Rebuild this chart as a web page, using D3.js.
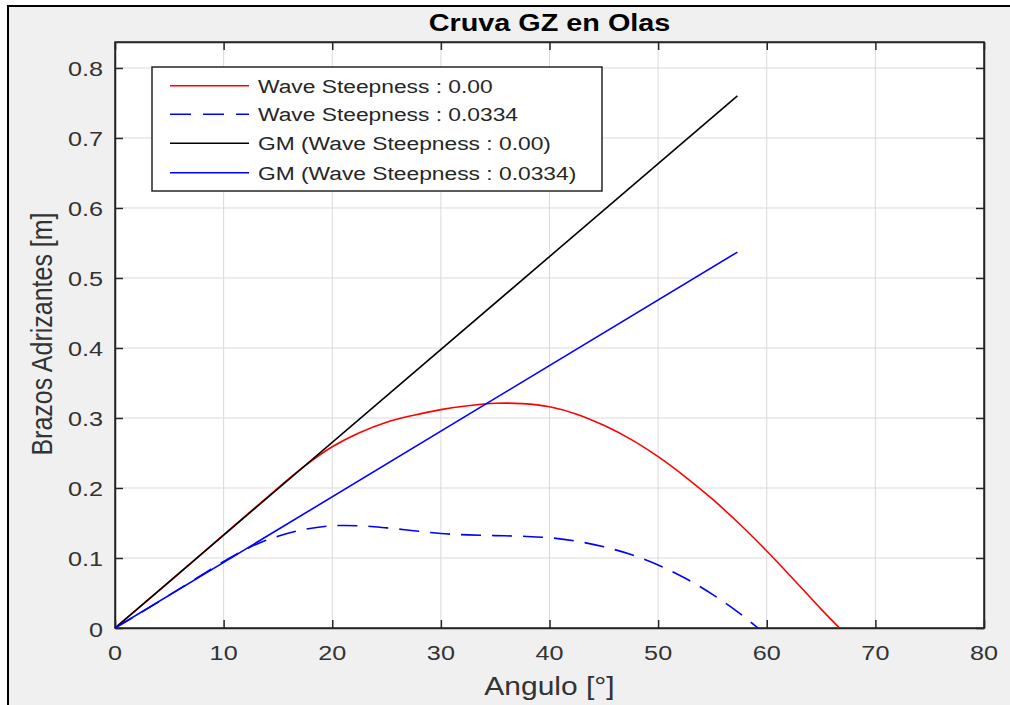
<!DOCTYPE html>
<html><head><meta charset="utf-8">
<script src="https://cdn.jsdelivr.net/npm/d3@7"></script>
<style>html,body{margin:0;padding:0;background:#fff;}svg{display:block;}</style>
</head><body>
<svg id="c" width="1010" height="705"></svg>
<script>
// ---- data ----
const xTicks = [0, 10, 20, 30, 40, 50, 60, 70, 80];
const yTicks = [0, 0.1, 0.2, 0.3, 0.4, 0.5, 0.6, 0.7, 0.8];
const yTickLabels = ["0", "0.1", "0.2", "0.3", "0.4", "0.5", "0.6", "0.7", "0.8"];
const xTickLabels = ["0", "10", "20", "30", "40", "50", "60", "70", "80"];

const calmAngles = [0, 5, 10, 15, 17.5, 20, 22.5, 25, 27.5, 30, 32.5, 35, 37.5, 40, 42.5, 45, 47.5, 50, 52.5, 55, 57.5, 60, 62.5, 65, 66.7];
const calmGZ     = [0, 0.066, 0.133, 0.200, 0.232, 0.259, 0.279, 0.294, 0.304, 0.312, 0.3175, 0.321, 0.3205, 0.316, 0.3055, 0.2895, 0.2695, 0.2448, 0.216, 0.184, 0.1485, 0.110, 0.069, 0.027, 0];

const waveAngles = [0, 2.5, 5, 7.5, 10, 12.5, 15, 17.5, 20, 22.5, 25, 27.5, 30, 32.5, 35, 37.5, 40, 42.5, 45, 47.5, 50, 52.5, 55, 57.5, 59.2];
const waveGZ     = [0, 0.023, 0.047, 0.071, 0.095, 0.116, 0.131, 0.141, 0.146, 0.146, 0.143, 0.139, 0.135, 0.133, 0.132, 0.131, 0.129, 0.124, 0.116, 0.105, 0.090, 0.071, 0.048, 0.021, 0];

const gmAngles = [0, 57.3];
const gmCalm   = [0, 0.76];
const gmWave   = [0, 0.537];

const legendLabels = ["Wave Steepness : 0.00", "Wave Steepness : 0.0334", "GM (Wave Steepness : 0.00)", "GM (Wave Steepness : 0.0334)"];

// ---- layout ----
const svg = d3.select("#c");
const L = 115, R = 984, T = 42, B = 628;
const SX = 1.2; // horizontal stretch of text
const x = d3.scaleLinear().domain([0, 80]).range([L, R]);
const y = d3.scaleLinear().domain([0, 0.8371]).range([B, T]);
const axisColor = "#262626";
const font = "'Liberation Sans', Arial, Helvetica, sans-serif";

function txt(g, px, py, s, o = {}) {
  return g.append("text")
    .attr("transform", `translate(${px},${py}) scale(${SX},1)` + (o.rotate ? " rotate(-90)" : ""))
    .attr("text-anchor", o.anchor || "start")
    .attr("font-family", font)
    .attr("font-size", o.size || 20)
    .attr("font-weight", o.weight || "normal")
    .attr("fill", o.fill || "#262626")
    .text(s);
}

// figure background + frame
svg.append("rect").attr("x", 8).attr("y", 6).attr("width", 1010).attr("height", 710).attr("fill", "#f0f0f0");
svg.append("line").attr("x1", 8).attr("x2", 8).attr("y1", 5).attr("y2", 705).attr("stroke", "#000").attr("stroke-width", 2);
svg.append("line").attr("x1", 7).attr("x2", 1010).attr("y1", 6).attr("y2", 6).attr("stroke", "#000").attr("stroke-width", 2);

// plot area
svg.append("rect").attr("x", L).attr("y", T).attr("width", R - L).attr("height", B - T).attr("fill", "#fff");

// grid
const grid = svg.append("g").attr("stroke", "#dadada").attr("stroke-width", 1);
xTicks.forEach(t => grid.append("line").attr("x1", x(t)).attr("x2", x(t)).attr("y1", T).attr("y2", B));
yTicks.forEach(t => grid.append("line").attr("x1", L).attr("x2", R).attr("y1", y(t)).attr("y2", y(t)));

// axes (ticks inside, box)
function styleAxis(g) {
  g.selectAll("path").attr("stroke", axisColor).attr("stroke-width", 1.5);
  g.selectAll("line").attr("stroke", axisColor).attr("stroke-width", 1.5);
  g.selectAll("text").remove();
}
svg.append("g").attr("transform", `translate(0,${B})`).call(d3.axisBottom(x).tickValues(xTicks).tickSizeInner(-8).tickSizeOuter(0)).call(styleAxis);
svg.append("g").attr("transform", `translate(0,${T})`).call(d3.axisTop(x).tickValues(xTicks).tickSizeInner(-8).tickSizeOuter(0)).call(styleAxis);
svg.append("g").attr("transform", `translate(${L},0)`).call(d3.axisLeft(y).tickValues(yTicks).tickSizeInner(-8).tickSizeOuter(0)).call(styleAxis);
svg.append("g").attr("transform", `translate(${R},0)`).call(d3.axisRight(y).tickValues(yTicks).tickSizeInner(-8).tickSizeOuter(0)).call(styleAxis);
svg.append("rect").attr("x", L).attr("y", T).attr("width", R - L).attr("height", B - T).attr("fill", "none").attr("stroke", axisColor).attr("stroke-width", 1.5);

// tick labels
const lab = svg.append("g");
xTicks.forEach((t, i) => txt(lab, x(t), 660, xTickLabels[i], { anchor: "middle", size: 21, fill: "#333" }));
yTicks.forEach((t, i) => txt(lab, 103, y(t) + 8.5, yTickLabels[i], { anchor: "end", size: 21, fill: "#333" }));

// axis titles + title
txt(svg, x(40), 695, "Angulo [°]", { anchor: "middle", size: 25, fill: "#333" });
txt(svg, 52, 334, "Brazos Adrizantes [m]", { anchor: "middle", size: 25, fill: "#333", rotate: true });
txt(svg, x(40), 31, "Cruva GZ en Olas", { anchor: "middle", size: 24, weight: "bold", fill: "#000" });

// series
svg.append("clipPath").attr("id", "pc").append("rect").attr("x", L).attr("y", T).attr("width", R - L).attr("height", B - T);
const plot = svg.append("g").attr("clip-path", "url(#pc)");
const line = d3.line().x(d => x(d[0])).y(d => y(d[1])).curve(d3.curveCatmullRom.alpha(0.5));
const series = [
  { a: calmAngles, v: calmGZ, color: "#ff0000", dash: null },
  { a: waveAngles, v: waveGZ, color: "#0000ff", dash: "20,11" },
  { a: gmAngles, v: gmCalm, color: "#000000", dash: null },
  { a: gmAngles, v: gmWave, color: "#0000ff", dash: null }
];
series.forEach(s => {
  plot.append("path").datum(s.a.map((a, i) => [a, s.v[i]]))
    .attr("d", line).attr("fill", "none").attr("stroke", s.color).attr("stroke-width", 1.6)
    .attr("stroke-dasharray", s.dash);
});

// legend
const lg = svg.append("g");
lg.append("rect").attr("x", 152).attr("y", 67).attr("width", 450).attr("height", 124).attr("fill", "#fff").attr("stroke", axisColor).attr("stroke-width", 1.5);
const rowsY = [85.7, 114.3, 143.3, 172.7];
series.forEach((s, i) => {
  lg.append("line").attr("x1", 170).attr("x2", 249).attr("y1", rowsY[i]).attr("y2", rowsY[i])
    .attr("stroke", s.color).attr("stroke-width", 1.6).attr("stroke-dasharray", s.dash ? "21,12" : null);
  txt(lg, 258, rowsY[i] + 7, legendLabels[i], { size: 19, fill: "#262626" });
});
</script>
</body></html>
